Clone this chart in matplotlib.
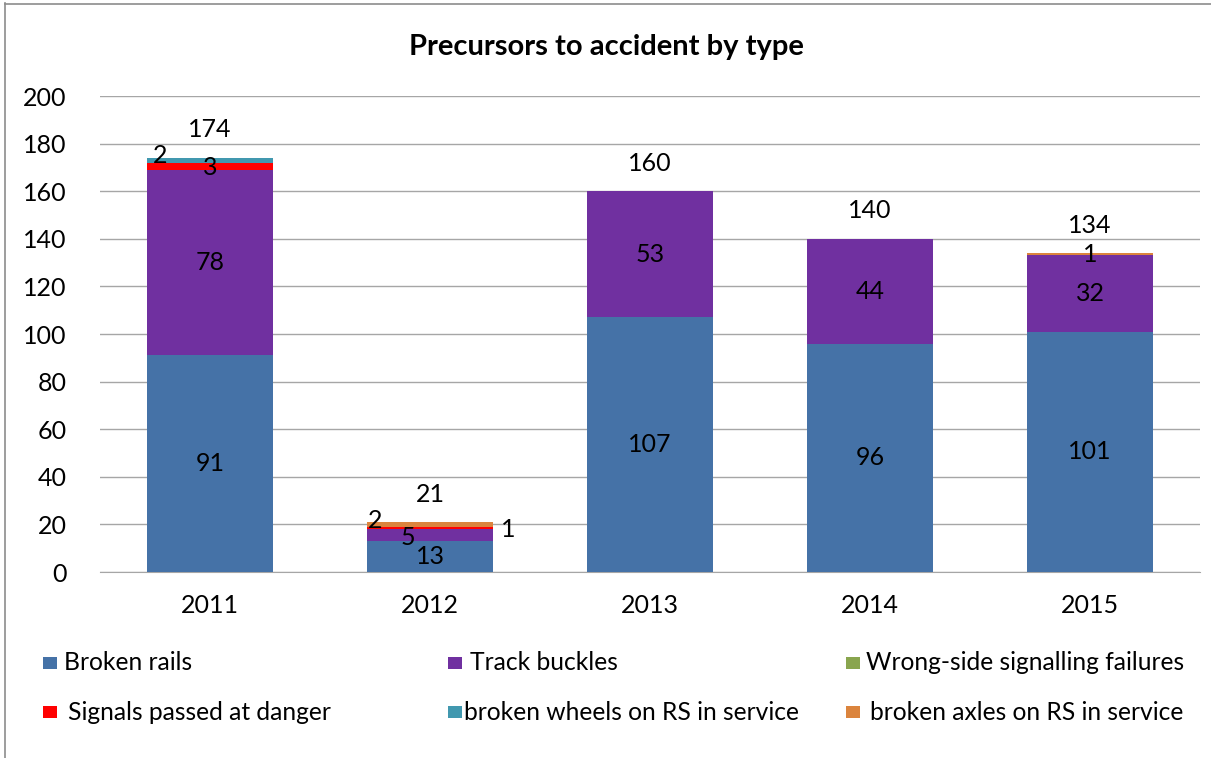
import matplotlib
matplotlib.use("Agg")
import matplotlib.pyplot as plt
from matplotlib.patches import Rectangle
import numpy as np

plt.rcParams['font.family'] = ['Lato', 'DejaVu Sans']

# ---- data ----
years = ["2011", "2012", "2013", "2014", "2015"]
series_names = ["Broken rails", "Track buckles", "Wrong-side signalling failures",
                "Signals passed at danger", "broken wheels on RS in service",
                "broken axles on RS in service"]
broken_rails = [91, 13, 107, 96, 101]
track_buckles = [78, 5, 53, 44, 32]
wrong_side = [0, 0, 0, 0, 0]
spad = [3, 1, 0, 0, 0]
broken_wheels = [2, 0, 0, 0, 0]
broken_axles = [0, 2, 0, 0, 1]
yticks = [0, 20, 40, 60, 80, 100, 120, 140, 160, 180, 200]

series = [broken_rails, track_buckles, wrong_side, spad, broken_wheels, broken_axles]
colors = ["#4572A7", "#7030A0", "#89A54E", "#FF0000", "#4198AF", "#DB843D"]

W, H = 1211, 758
fig = plt.figure(figsize=(W / 100, H / 100), dpi=100)
ax = fig.add_axes([100 / W, 1 - 572 / H, 1100 / W, (572 - 96) / H])

x = np.arange(len(years))
bw = 0.57
bottom = np.zeros(len(years))
bars = []
for vals, col, name in zip(series, colors, series_names):
    b = ax.bar(x, vals, bw, bottom=bottom, color=col, label=name, zorder=3, linewidth=0)
    bars.append((b, np.array(vals, float), bottom.copy()))
    bottom += np.array(vals, float)

# segment labels (offsets in pixels for the small ones)
offsets = {(4, 0): (-50, 5), (3, 0): (0, -1), (1, 1): (-22, -2), (3, 1): (78, -2),
           (5, 1): (-55, 4)}
for si, (b, vals, bot) in enumerate(bars):
    for i, v in enumerate(vals):
        if v <= 0:
            continue
        dx, dy = offsets.get((si, i), (0, 0))
        ax.annotate(f"{int(v)}", (x[i], bot[i] + v / 2), xytext=(dx, dy),
                    textcoords="offset pixels", ha="center", va="center",
                    fontsize=18, color="black", zorder=5)

totals = bottom
for i, t in enumerate(totals):
    ax.annotate(f"{int(t)}", (x[i], t), xytext=(0, 28), textcoords="offset pixels",
                ha="center", va="center", fontsize=18, color="black")

ax.set_xlim(-0.5, len(years) - 0.5)
ax.set_ylim(0, 200)
ax.set_yticks(yticks)
ax.set_xticks(x)
ax.set_xticklabels(years)
ax.tick_params(axis='both', length=0, labelsize=18)
ax.tick_params(axis='y', pad=24)
ax.tick_params(axis='x', pad=16)
ax.grid(axis='y', color="#A6A6A6", linewidth=1, zorder=0)
ax.set_axisbelow(True)
for s in ["left", "right", "top"]:
    ax.spines[s].set_visible(False)
ax.spines["bottom"].set_color("#A6A6A6")

fig.text(606 / W, 1 - 47 / H, "Precursors to accident by type", ha="center", va="center",
         fontsize=21, fontweight="bold")

# legend (manual layout, two rows x three columns)
marker_x = [43, 448, 846]
text_x = [[64, 470, 866], [68, 464, 870]]
row_y = [663, 712]
for k, (name, col) in enumerate(zip(series_names, colors)):
    r, c = divmod(k, 3)
    mx = marker_x[c]
    cy = row_y[r]
    fig.add_artist(Rectangle((mx / W, 1 - (cy + 6) / H), 14 / W, 12 / H,
                             transform=fig.transFigure, facecolor=col, edgecolor="none"))
    fig.text(text_x[r][c] / W, 1 - cy / H, name, ha="left", va="center", fontsize=17.7)

# chart border
fig.add_artist(plt.Line2D([4.5 / W, 4.5 / W], [0, 1 - 3 / H], transform=fig.transFigure,
                          color="#8C8C8C", linewidth=1.2))
fig.add_artist(plt.Line2D([4.5 / W, 1], [1 - 3.5 / H, 1 - 3.5 / H], transform=fig.transFigure,
                          color="#8C8C8C", linewidth=1.2))

fig.savefig("out.png", dpi=100)
